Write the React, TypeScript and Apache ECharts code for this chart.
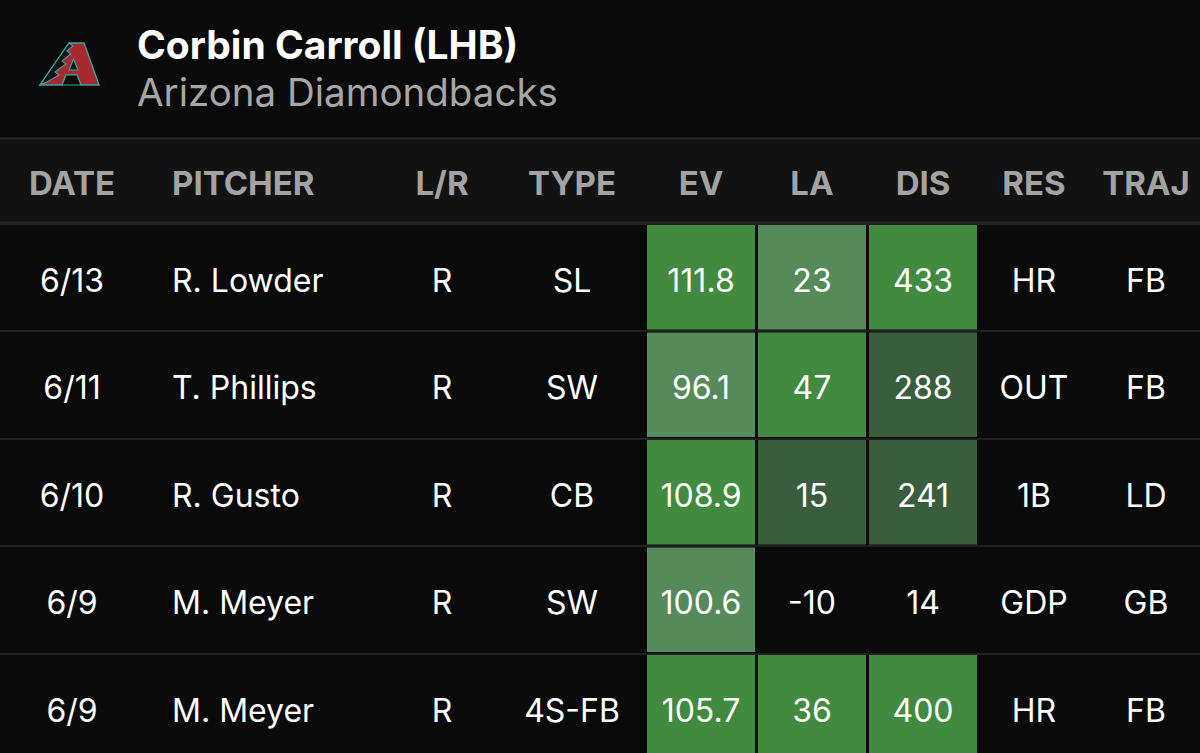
import React, { useEffect, useRef } from "react";
import * as echarts from "echarts";

// ---- data ----
const HEADERS = ["DATE", "PITCHER", "L/R", "TYPE", "EV", "LA", "DIS", "RES", "TRAJ"];
const DATES = ["6/13", "6/11", "6/10", "6/9", "6/9"];
const PITCHERS = ["R. Lowder", "T. Phillips", "R. Gusto", "M. Meyer", "M. Meyer"];
const HANDS = ["R", "R", "R", "R", "R"];
const TYPES = ["SL", "SW", "CB", "SW", "4S-FB"];
const EV = [111.8, 96.1, 108.9, 100.6, 105.7];
const LA = [23, 47, 15, -10, 36];
const DIS = [433, 288, 241, 14, 400];
const RES = ["HR", "OUT", "1B", "GDP", "HR"];
const TRAJ = ["FB", "FB", "LD", "GB", "FB"];
// shading tier per cell: 0 none, 1 dark, 2 medium, 3 bright
const EV_TIER = [3, 2, 3, 2, 3];
const LA_TIER = [2, 3, 1, 0, 3];
const DIS_TIER = [3, 1, 1, 0, 3];
const ROWS = ["r1", "r2", "r3", "r4", "r5"];
const PLAYER = "Corbin Carroll (LHB)";
const TEAM = "Arizona Diamondbacks";

// ---- layout / style ----
const COL_ANCHOR = [72, 172, 442, 572, 701, 812, 923, 1034, 1146];
const COL_ALIGN = ["center", "left", "center", "center", "center", "center", "center", "center", "center"];
const TIER_COLORS = ["transparent", "#3a5e3d", "#558a5a", "#418a3f"];
const CELL_HALF = 54;
const BODY_FONT = "32px Inter";
const HEAD_FONT = "bold 33px Inter";
const TEXT_DY = 3;

type Cell = { col: number; row: number; text: string; tier: number };

function buildCells(): Cell[] {
  const cells: Cell[] = [];
  for (let r = 0; r < ROWS.length; r++) {
    const texts = [
      DATES[r],
      PITCHERS[r],
      HANDS[r],
      TYPES[r],
      EV[r].toFixed(1),
      String(LA[r]),
      String(DIS[r]),
      RES[r],
      TRAJ[r],
    ];
    const tiers = [0, 0, 0, 0, EV_TIER[r], LA_TIER[r], DIS_TIER[r], 0, 0];
    texts.forEach((t, c) => cells.push({ col: c, row: r, text: t, tier: tiers[c] }));
  }
  return cells;
}

export default function App() {
  const ref = useRef<HTMLDivElement>(null);
  useEffect(() => {
    if (!ref.current) return;
    const chart = echarts.init(ref.current, undefined, { renderer: "svg" });
    const cells = buildCells();

    const teal = "#3aa5a5";
    const logo = [
      {
        type: "polygon",
        shape: { points: [[69, 43], [84, 43], [99, 85], [81, 85], [77, 75], [66, 75], [62, 85], [40, 85]] },
        style: { fill: "#a8292d", stroke: teal, lineWidth: 1.4 },
      },
      {
        type: "polygon",
        shape: { points: [[69, 43], [73, 46], [67, 51], [71, 54], [62, 61], [66, 64], [55, 72], [59, 75], [47, 82], [40, 85]] },
        style: { fill: "#151515", stroke: teal, lineWidth: 1.1 },
      },
      {
        type: "polygon",
        shape: { points: [[73.5, 59], [78, 70], [69, 70]] },
        style: { fill: "#151515", stroke: teal, lineWidth: 1.1 },
      },
      {
        type: "polygon",
        shape: { points: [[66, 75], [77, 75], [81, 85], [62, 85]] },
        style: { fill: "#0a0a0a", stroke: teal, lineWidth: 1.1 },
      },
    ];

    const headerTexts = HEADERS.map((h, i) => ({
      type: "text",
      x: COL_ANCHOR[i],
      y: 183,
      style: {
        text: h,
        font: HEAD_FONT,
        fill: "#a3a3a3",
        align: COL_ALIGN[i],
        verticalAlign: "middle",
      },
    }));

    chart.setOption({
      animation: false,
      backgroundColor: "#0a0a0a",
      grid: { left: 0, right: 0, top: 223.5, bottom: 0, containLabel: false },
      xAxis: { type: "value", min: 0, max: 1200, show: false },
      yAxis: {
        type: "category",
        data: ROWS,
        inverse: true,
        axisLine: { show: false },
        axisTick: { show: false },
        axisLabel: { show: false },
        splitLine: { show: true, lineStyle: { color: "#1f1f1f", width: 2 } },
      },
      graphic: [
        { type: "rect", shape: { x: 0, y: 139, width: 1200, height: 83 }, style: { fill: "#121212" } },
        { type: "line", shape: { x1: 0, y1: 138.5, x2: 1200, y2: 138.5 }, style: { stroke: "#262626", lineWidth: 2 } },
        { type: "line", shape: { x1: 0, y1: 222.5, x2: 1200, y2: 222.5 }, style: { stroke: "#222222", lineWidth: 2 } },
        {
          type: "text",
          x: 137,
          y: 44,
          style: { text: PLAYER, font: "bold 39px Inter", fill: "#ffffff", align: "left", verticalAlign: "middle" },
        },
        {
          type: "text",
          x: 137,
          y: 92,
          style: { text: TEAM, font: "38.5px Inter", fill: "#a6a6a6", align: "left", verticalAlign: "middle" },
        },
        ...logo,
        ...headerTexts,
      ],
      series: [
        {
          type: "custom",
          coordinateSystem: "cartesian2d",
          data: cells.map((c) => [COL_ANCHOR[c.col], c.row]),
          renderItem: (params: any, api: any) => {
            const cell = cells[params.dataIndex];
            const p = api.coord([api.value(0), api.value(1)]);
            const bandH = api.size([0, 1])[1];
            const children: any[] = [];
            if (cell.tier > 0) {
              const l = api.coord([api.value(0) - CELL_HALF, api.value(1)])[0];
              const r = api.coord([api.value(0) + CELL_HALF, api.value(1)])[0];
              children.push({
                type: "rect",
                shape: { x: l, y: p[1] - bandH / 2 + 1.5, width: r - l, height: bandH - 3 },
                style: { fill: TIER_COLORS[cell.tier] },
              });
            }
            children.push({
              type: "text",
              style: {
                text: cell.text,
                x: p[0],
                y: p[1] + TEXT_DY,
                font: BODY_FONT,
                fill: "#ffffff",
                align: COL_ALIGN[cell.col],
                verticalAlign: "middle",
              },
            });
            return { type: "group", children };
          },
        },
      ],
    });
    return () => chart.dispose();
  }, []);
  return (
    <div
      ref={ref}
      style={{ position: "fixed", left: 0, top: 0, width: 1200, height: 761 }}
    />
  );
}
